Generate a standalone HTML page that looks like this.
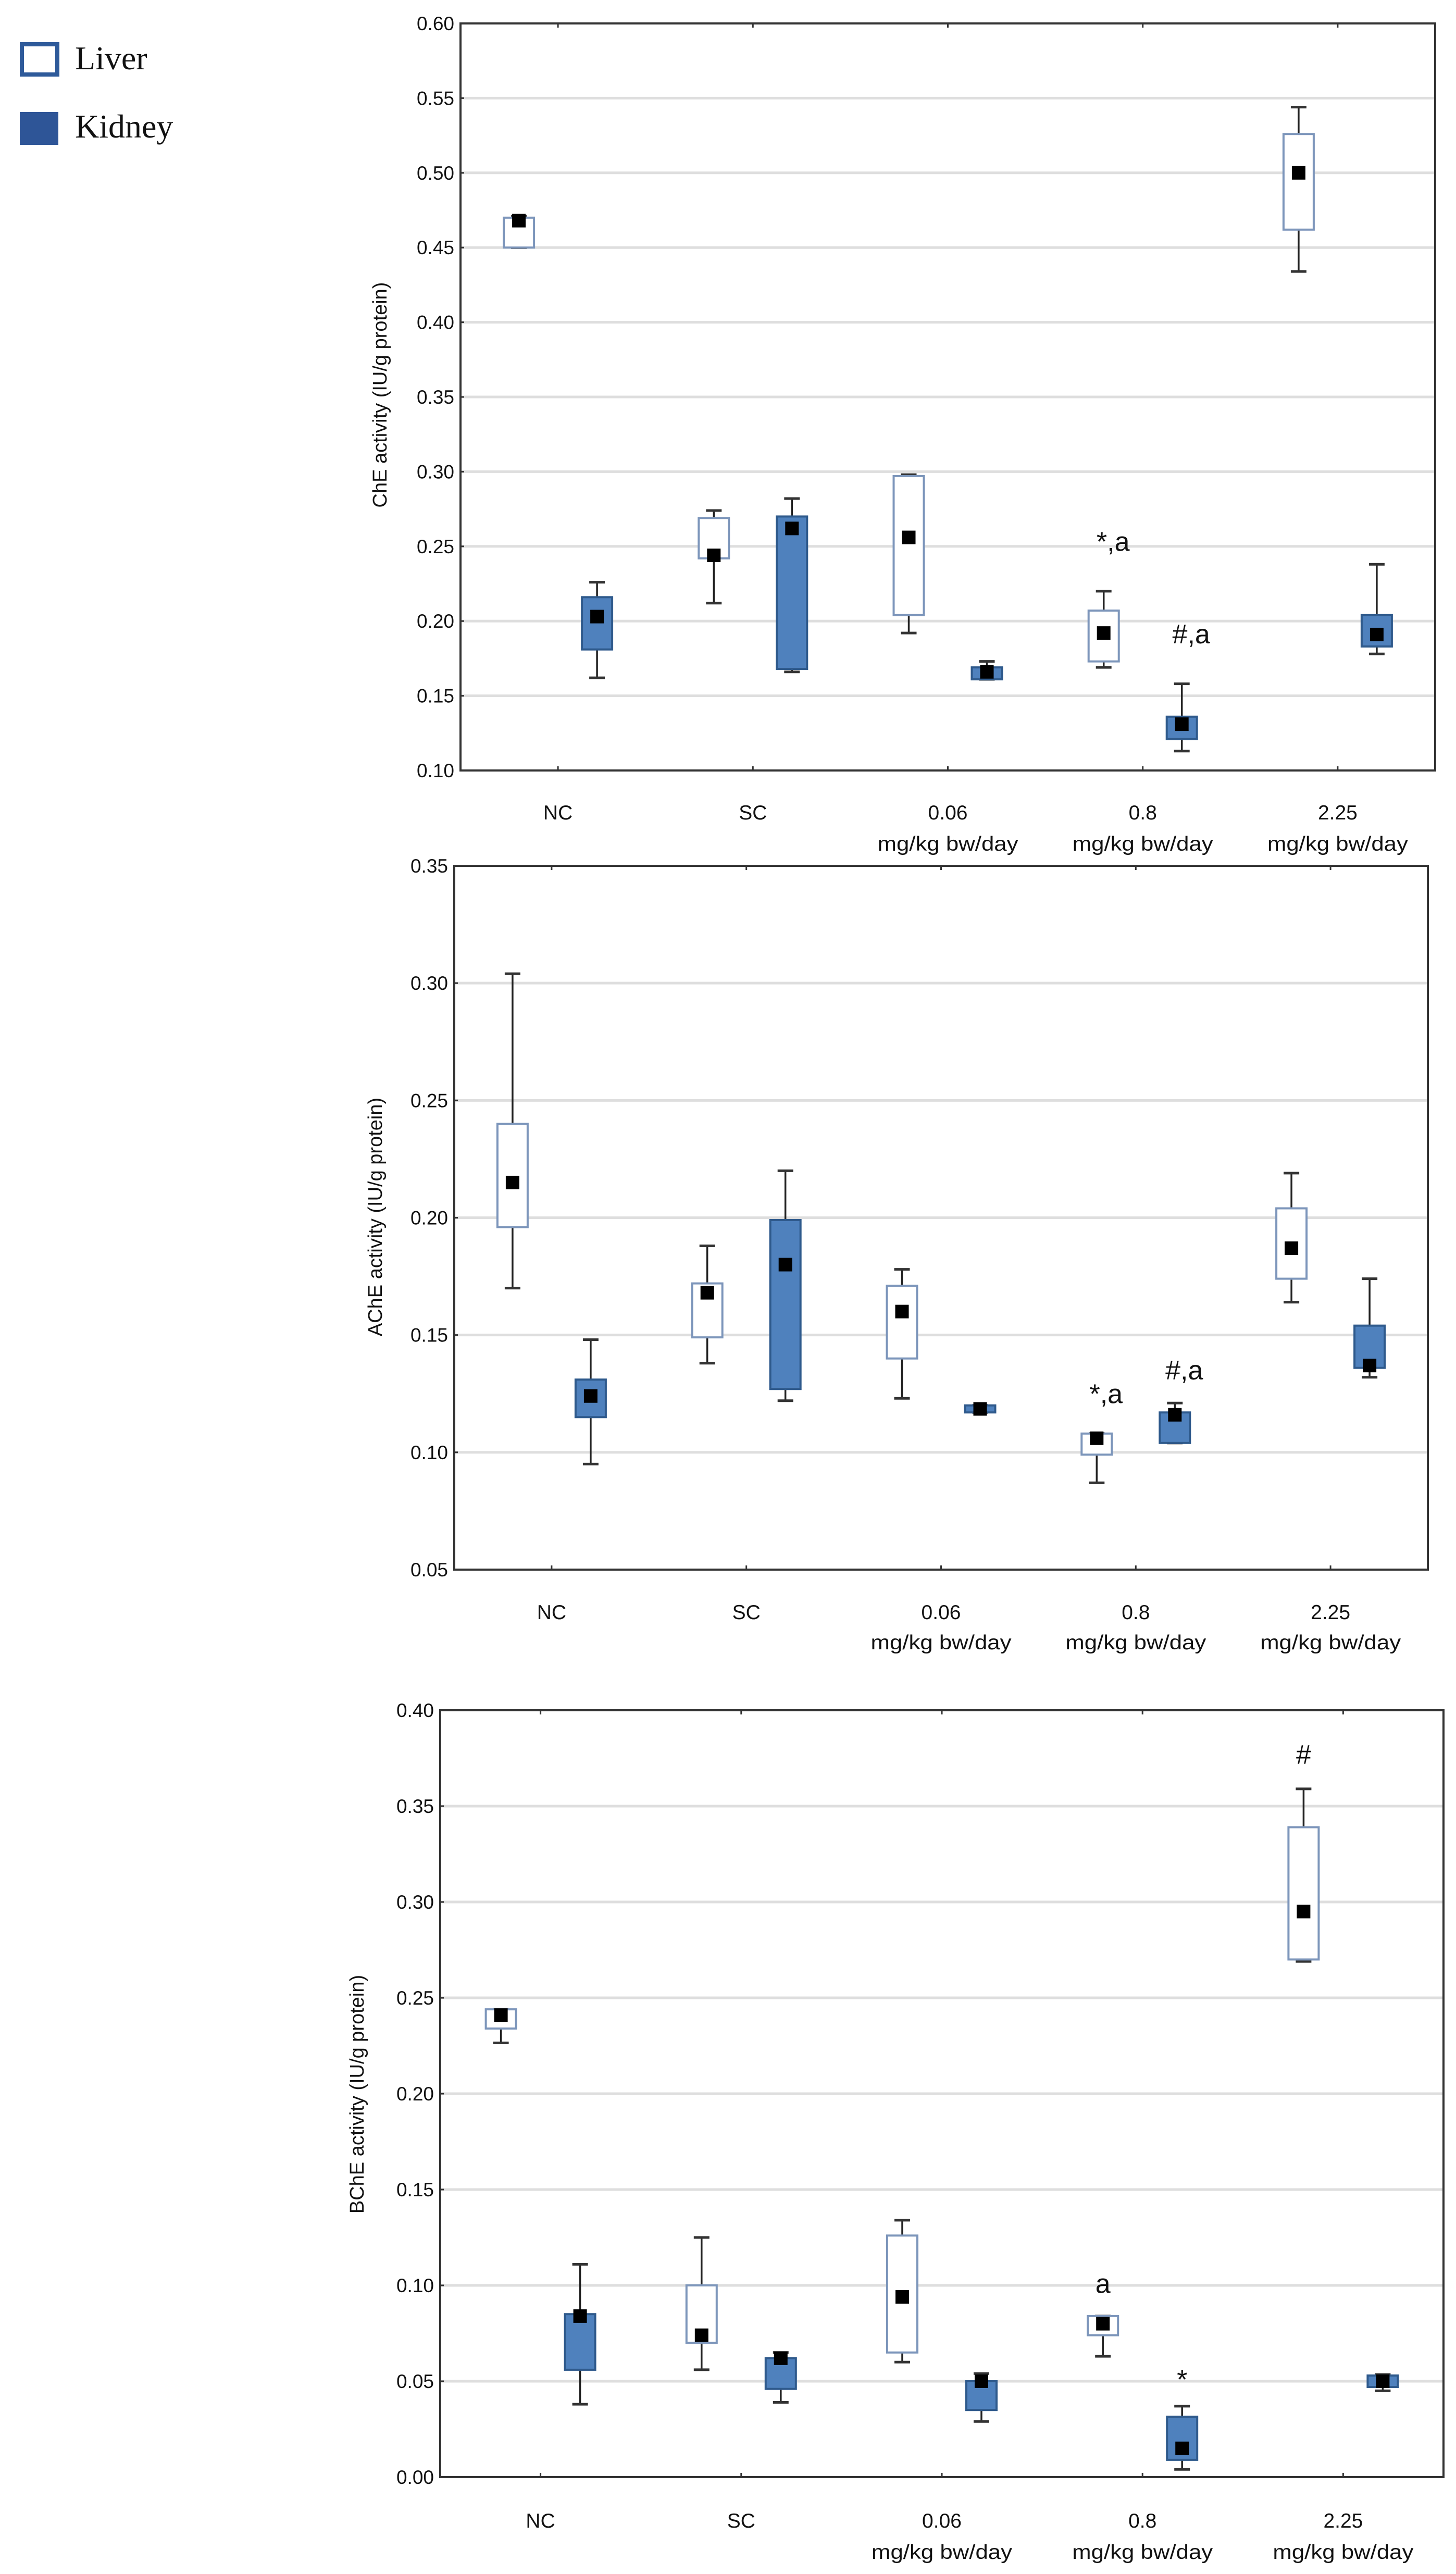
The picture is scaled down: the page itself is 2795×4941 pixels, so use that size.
<!DOCTYPE html>
<html><head><meta charset="utf-8">
<style>
html,body{margin:0;padding:0;background:#fff;}
body{width:2795px;height:4941px;position:relative;overflow:hidden;}
svg{position:absolute;left:0;top:0;}
</style></head>
<body>
<svg id="fig" width="2795" height="4941" viewBox="0 0 2795 4941" xmlns="http://www.w3.org/2000/svg">
  <g>
    <g>
      <rect x="42" y="85" width="68" height="58" fill="#fff" stroke="#2e5a9a" stroke-width="8"/>
      <text x="144" y="133" font-family="Liberation Serif, serif" font-size="64" fill="#111">Liver</text>
    </g>
    <g>
      <rect x="38" y="215" width="74" height="63" fill="#2e5597"/>
      <text x="144" y="264" font-family="Liberation Serif, serif" font-size="64" fill="#111">Kidney</text>
    </g>
  </g>
</svg>
<script>
// ---------- Shared categories ----------
const categories = ["NC","SC","0.06","0.8","2.25"];
const categorySub = ["","","mg/kg bw/day","mg/kg bw/day","mg/kg bw/day"];

// ---------- Chart 1: ChE ----------
const cheTicks = [0.10,0.15,0.20,0.25,0.30,0.35,0.40,0.45,0.50,0.55,0.60];
const cheLiverMean = [0.468,0.244,0.256,0.192,0.500];
const cheLiverQ1 = [0.450,0.242,0.204,0.173,0.462];
const cheLiverQ3 = [0.470,0.269,0.297,0.207,0.526];
const cheLiverMin = [0.450,0.212,0.192,0.169,0.434];
const cheLiverMax = [0.471,0.274,0.298,0.220,0.544];
const cheKidneyMean = [0.203,0.262,0.166,0.131,0.191];
const cheKidneyQ1 = [0.181,0.168,0.161,0.121,0.183];
const cheKidneyQ3 = [0.216,0.270,0.169,0.136,0.204];
const cheKidneyMin = [0.162,0.166,0.161,0.113,0.178];
const cheKidneyMax = [0.226,0.282,0.173,0.158,0.238];
const cheNotes = [{cat:3,series:"liver",text:"*,a",val:0.247},{cat:3,series:"kidney",text:"#,a",val:0.185}];

// ---------- Chart 2: AChE ----------
const acheTicks = [0.05,0.10,0.15,0.20,0.25,0.30,0.35];
const acheLiverMean = [0.215,0.168,0.160,0.106,0.187];
const acheLiverQ1 = [0.196,0.149,0.140,0.099,0.174];
const acheLiverQ3 = [0.240,0.172,0.171,0.108,0.204];
const acheLiverMin = [0.170,0.138,0.123,0.087,0.164];
const acheLiverMax = [0.304,0.188,0.178,0.108,0.219];
const acheKidneyMean = [0.124,0.180,0.1185,0.116,0.137];
const acheKidneyQ1 = [0.115,0.127,0.117,0.104,0.136];
const acheKidneyQ3 = [0.131,0.199,0.120,0.117,0.154];
const acheKidneyMin = [0.095,0.122,0.117,0.104,0.132];
const acheKidneyMax = [0.148,0.220,0.120,0.121,0.174];
const acheNotes = [{cat:3,series:"liver",text:"*,a",val:0.121},{cat:3,series:"kidney",text:"#,a",val:0.131}];

// ---------- Chart 3: BChE ----------
const bcheTicks = [0.00,0.05,0.10,0.15,0.20,0.25,0.30,0.35,0.40];
const bcheLiverMean = [0.241,0.074,0.094,0.080,0.295];
const bcheLiverQ1 = [0.234,0.070,0.065,0.074,0.270];
const bcheLiverQ3 = [0.244,0.100,0.126,0.084,0.339];
const bcheLiverMin = [0.2265,0.056,0.060,0.063,0.269];
const bcheLiverMax = [0.244,0.125,0.134,0.084,0.359];
const bcheKidneyMean = [0.084,0.062,0.050,0.015,0.050];
const bcheKidneyQ1 = [0.056,0.046,0.035,0.009,0.047];
const bcheKidneyQ3 = [0.085,0.062,0.050,0.0315,0.053];
const bcheKidneyMin = [0.038,0.039,0.029,0.004,0.045];
const bcheKidneyMax = [0.111,0.065,0.054,0.037,0.0535];
const bcheNotes = [{cat:4,series:"liver",text:"#",val:0.372},{cat:3,series:"liver",text:"a",val:0.096},{cat:3,series:"kidney",text:"*",val:0.046}];

const NS = "http://www.w3.org/2000/svg";
const svg = document.getElementById("fig");
function mk(tag, attrs, parent){
  const e = document.createElementNS(NS, tag);
  for (const k in attrs) e.setAttribute(k, attrs[k]);
  parent.appendChild(e);
  return e;
}

function drawChart(cfg){
  const g = mk("g", {}, svg);
  
  
  const L=cfg.left, R=cfg.right, T=cfg.top, B=cfg.bottom;
  const vmin=cfg.ticks[0], vmax=cfg.ticks[cfg.ticks.length-1];
  const y = v => B - (v - vmin)/(vmax - vmin)*(B - T);
  const step = (R - L)/categories.length;
  const xc = i => L + step*(i+0.5) + cfg.catShift;
  // gridlines & ticks
  cfg.ticks.forEach((t,i)=>{
    const yy = y(t);
    if (i>0 && i<cfg.ticks.length-1){
      const gl = mk("line",{x1:L,x2:R,y1:yy,y2:yy,stroke:"#dedede","stroke-width":5},g);
      
      
    }
    const tk = mk("line",{x1:L,x2:L+7,y1:yy,y2:yy,stroke:"#333","stroke-width":3},g);
    
    
    const tl = mk("text",{x:L-12,y:yy+13,"text-anchor":"end","font-family":"Liberation Sans, sans-serif","font-size":37,fill:"#111"},g);
    tl.textContent = t.toFixed(2);
    
    
  });
  // frame
  const fr = mk("rect",{x:L,y:T,width:R-L,height:B-T,fill:"none",stroke:"#333","stroke-width":4},g);
  
  
  // y title
  const yt = mk("text",{x:0,y:0,transform:`translate(${cfg.titleX},${cfg.titleY}) rotate(-90)`,"text-anchor":"middle","font-family":"Liberation Sans, sans-serif","font-size":38,fill:"#111"},g);
  yt.textContent = cfg.yTitle;
  
  
  // categories
  categories.forEach((c,i)=>{
    const xx = xc(i);
    const tk = mk("line",{x1:xx,x2:xx,y1:T,y2:T+8,stroke:"#333","stroke-width":3},g);
    
    
    const tb = mk("line",{x1:xx,x2:xx,y1:B-8,y2:B,stroke:"#333","stroke-width":3},g);
    
    
    const t1 = mk("text",{x:xx,y:cfg.lab1,"text-anchor":"middle","font-family":"Liberation Sans, sans-serif","font-size":39,fill:"#111"},g);
    t1.textContent = c;
    
    
    if (categorySub[i]){
      const t2 = mk("text",{x:xx,y:cfg.lab2,"text-anchor":"middle","font-family":"Liberation Sans, sans-serif","font-size":39,fill:"#111","textLength":270,"lengthAdjust":"spacingAndGlyphs"},g);
      t2.textContent = categorySub[i];
      
      
    }
  });
  // boxes
  const series = [
    {key:"liver",off:-cfg.off,fill:"#fff",stroke:"#7d96bb",d:cfg.liver},
    {key:"kidney",off:cfg.off,fill:"#4f81bd",stroke:"#2f5a8c",d:cfg.kidney}
  ];
  const W=58;
  series.forEach(s=>{
    categories.forEach((c,i)=>{
      const cx = xc(i)+s.off;
      const bg = mk("g",{},g);
      
      
      const [mean,q1,q3,mn,mx] = [s.d.mean[i],s.d.q1[i],s.d.q3[i],s.d.min[i],s.d.max[i]];
      mk("line",{x1:cx,x2:cx,y1:y(mx),y2:y(mn),stroke:"#222","stroke-width":3.5},bg);
      mk("line",{x1:cx-15,x2:cx+15,y1:y(mx),y2:y(mx),stroke:"#333","stroke-width":5},bg);
      mk("line",{x1:cx-15,x2:cx+15,y1:y(mn),y2:y(mn),stroke:"#333","stroke-width":5},bg);
      mk("rect",{x:cx-W/2,y:y(q3),width:W,height:Math.max(y(q1)-y(q3),3),fill:s.fill,stroke:s.stroke,"stroke-width":4},bg);
      const m = mk("rect",{x:cx-13,y:y(mean)-13,width:26,height:26,fill:"#000"},bg);
      
      
    });
  });
  cfg.notes.forEach(n=>{
    const cx = xc(n.cat) + (n.series==="liver"?-cfg.off:cfg.off) + (n.text.length>1?18:0);
    const t = mk("text",{x:cx,y:y(n.val),"text-anchor":"middle","font-family":"Liberation Sans, sans-serif","font-size":52,fill:"#111"},g);
    t.textContent = n.text;
    
    
  });
}

drawChart({name:"che-chart",left:884,right:2755,top:45,bottom:1479,catShift:0,off:75,
  ticks:cheTicks,yTitle:"ChE activity (IU/g protein)",titleX:742,titleY:758,lab1:1573,lab2:1633,
  liver:{mean:cheLiverMean,q1:cheLiverQ1,q3:cheLiverQ3,min:cheLiverMin,max:cheLiverMax},
  kidney:{mean:cheKidneyMean,q1:cheKidneyQ1,q3:cheKidneyQ3,min:cheKidneyMin,max:cheKidneyMax},
  notes:cheNotes});
drawChart({name:"ache-chart",left:872,right:2741,top:1662,bottom:3013,catShift:0,off:75,
  ticks:acheTicks,yTitle:"AChE activity (IU/g protein)",titleX:733,titleY:2336,lab1:3108,lab2:3166,
  liver:{mean:acheLiverMean,q1:acheLiverQ1,q3:acheLiverQ3,min:acheLiverMin,max:acheLiverMax},
  kidney:{mean:acheKidneyMean,q1:acheKidneyQ1,q3:acheKidneyQ3,min:acheKidneyMin,max:acheKidneyMax},
  notes:acheNotes});
drawChart({name:"bche-chart",left:845,right:2771,top:3283,bottom:4755,catShift:0,off:76,
  ticks:bcheTicks,yTitle:"BChE activity (IU/g protein)",titleX:698,titleY:4020,lab1:4852,lab2:4912,
  liver:{mean:bcheLiverMean,q1:bcheLiverQ1,q3:bcheLiverQ3,min:bcheLiverMin,max:bcheLiverMax},
  kidney:{mean:bcheKidneyMean,q1:bcheKidneyQ1,q3:bcheKidneyQ3,min:bcheKidneyMin,max:bcheKidneyMax},
  notes:bcheNotes});
</script>
</body></html>
